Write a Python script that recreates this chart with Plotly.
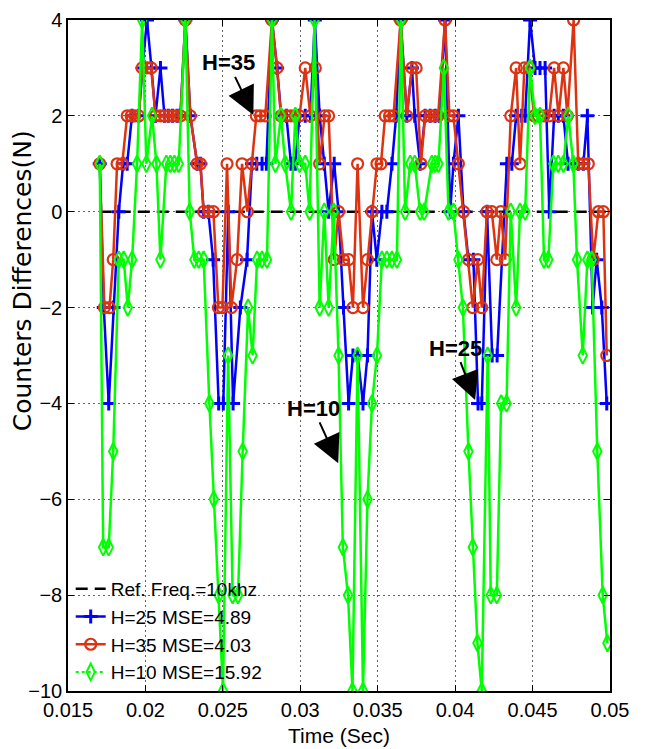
import plotly.graph_objects as go

# ---- data (time in ms, values in counts) ----
ref_ms = [17.05, 49.83]
ref_val = [0, 0]

h25_ms = [17.05, 17.31, 17.63, 17.94, 18.28, 18.56, 18.82, 19.13, 19.57, 19.81,
          20.10, 20.39, 20.65, 20.97, 21.23, 21.48, 21.74, 22.05, 22.26, 22.58,
          22.90, 23.34, 23.55, 23.76, 24.06, 24.37, 24.73, 25.03, 25.35, 25.66,
          26.13, 26.56, 26.88, 27.19, 27.53, 27.81, 28.17, 28.50, 28.77, 29.10,
          29.40, 29.68, 29.95, 30.32, 30.65, 30.94, 31.25, 31.55, 31.83, 32.19,
          32.47, 32.79, 33.12, 33.40, 33.70, 34.05, 34.34, 34.63, 34.94, 35.27,
          35.59, 35.92, 36.19, 36.48, 36.88, 37.21, 37.39, 37.74, 38.06, 38.39,
          38.71, 38.99, 39.35, 39.68, 39.89, 40.21, 40.54, 40.86, 41.18, 41.48,
          41.72, 42.06, 42.39, 42.71, 43.34, 43.66, 43.94, 44.30, 44.52, 44.84,
          45.16, 45.48, 45.81, 46.08, 46.39, 46.66, 46.99, 47.29, 47.63, 47.95,
          48.28, 48.54, 48.88, 49.14, 49.47, 49.79]
h25_val = [1, -2, -4, -2, 0, 1, 1, 2, 2, 3,
           4, 3, 2, 3, 2, 2, 2, 2, 2, 4,
           2, 1, 1, 0, 0, -1, -4, -4, 0, -4,
           -2, -1, 1, 1, 1, 1, 4, 3, 2, 2,
           1, 1, 2, 2, 2, 4, 2, 1, 0, 1,
           0, -2, -4, -3, -3, -4, -3, 0, -1, 0,
           0, 1, 2, 4, 2, 3, 2, 1, 2, 2,
           2, 2, 4, 0, 1, 2, 0, -1, -1, -4,
           -4, 0, -3, -3, 1, 1, 2, 2, 2, 4,
           3, 3, 3, 0, 2, 2, 2, 1, 1, 1,
           1, 2, -2, -1, -2, -4]

h35_ms = [17.05, 17.35, 17.68, 17.92, 18.17, 18.50, 18.82, 19.08, 19.31, 19.57,
          19.79, 20.11, 20.37, 20.65, 20.97, 21.23, 21.50, 21.79, 22.05, 22.26,
          22.58, 22.90, 23.34, 23.55, 23.76, 24.10, 24.39, 24.71, 24.97, 25.27,
          25.55, 25.92, 26.24, 26.58, 26.88, 27.16, 27.42, 27.74, 28.17, 28.50,
          28.75, 29.10, 29.40, 29.68, 29.95, 30.32, 30.65, 30.97, 31.25, 31.57,
          31.83, 32.19, 32.47, 32.79, 33.12, 33.40, 33.70, 34.05, 34.34, 34.63,
          34.95, 35.21, 35.48, 35.76, 36.02, 36.48, 36.88, 37.21, 37.48, 37.79,
          38.06, 38.39, 38.60, 38.90, 39.35, 39.63, 39.89, 40.21, 40.54, 40.86,
          41.14, 41.46, 41.72, 42.05, 42.37, 42.69, 42.95, 43.23, 43.59, 43.94,
          44.19, 44.47, 44.77, 45.10, 45.37, 45.74, 46.08, 46.39, 46.68, 46.99,
          47.25, 47.65, 47.95, 48.28, 48.60, 48.92, 49.25, 49.57, 49.79]
h35_val = [1, -2, -2, -1, 1, 1, 2, 2, 2, 2,
           3, 3, 3, 2, 2, 2, 2, 2, 2, 2,
           4, 2, 1, 1, 0, 0, 0, -2, -2, 1,
           -2, -1, 1, 0, 1, 2, 2, 2, 4, 3,
           2, 2, 2, 2, 2, 3, 2, 3, 1, 2,
           2, -1, 0, -1, -1, -2, 1, -2, -1, 0,
           1, 1, 2, 2, 2, 4, 2, 3, 3, 1,
           2, 2, 2, 2, 4, 2, 2, 1, 0, -1,
           -2, -1, -2, 0, 0, -1, 0, -1, 2, 3,
           1, 3, 3, 2, 2, 2, 2, 3, 2, 3,
           2, 4, 1, 1, 1, -1, 0, 0, -3]

h10_ms = [17.05, 17.27, 17.63, 17.92, 18.28, 18.60, 18.86, 19.14, 19.46, 19.79,
          20.06, 20.43, 20.71, 20.97, 21.35, 21.61, 21.87, 22.15, 22.58, 22.86,
          23.16, 23.44, 23.76, 24.13, 24.41, 24.73, 25.01, 25.34, 25.63, 25.98,
          26.28, 26.63, 26.92, 27.21, 27.53, 27.85, 28.17, 28.39, 28.75, 29.03,
          29.40, 29.68, 29.95, 30.32, 30.60, 30.92, 31.25, 31.55, 31.83, 32.16,
          32.47, 32.75, 33.08, 33.37, 33.70, 34.05, 34.34, 34.63, 34.95, 35.27,
          35.59, 35.92, 36.24, 36.50, 36.77, 37.10, 37.39, 37.74, 38.00, 38.50,
          38.71, 38.92, 39.27, 39.57, 39.89, 40.21, 40.50, 40.86, 41.14, 41.44,
          41.72, 42.10, 42.30, 42.69, 42.97, 43.32, 43.59, 43.94, 44.19, 44.52,
          44.84, 45.16, 45.48, 45.74, 46.02, 46.34, 46.66, 46.99, 47.31, 47.63,
          47.87, 48.24, 48.54, 48.82, 49.18, 49.53, 49.83]
h10_val = [1, -7, -7, -5, -1, -1, -2, -1, 1, 4,
           1, 2, 1, -1, 1, 1, 1, 1, 4, 0,
           -1, -1, -1, -4, -6, -8, -10, -3, -8, -8,
           -5, -2, -3, -1, -1, -1, 4, 1, 2, 1,
           0, 2, 1, 1, 0, 4, -2, 0, -2, 0,
           -3, -7, -8, -10, -3, -10, -6, -4, -3, -1,
           -1, -1, -1, 4, 0, 1, 1, 0, 0, 1,
           1, 1, 3, 0, 0, -1, -2, -5, -7, -9,
           -10, -3, -8, -8, -4, -4, 0, -2, 0, 0,
           3, 2, 2, -1, -1, 1, 1, 1, 2, 1,
           -1, -3, -1, -1, -5, -8, -9]

names = ["Ref. Freq.=10khz", "H=25 MSE=4.89", "H=35 MSE=4.03", "H=10 MSE=15.92"]
x_ticks = [0.015, 0.02, 0.025, 0.03, 0.035, 0.04, 0.045, 0.05]
x_ticktext = ["0.015", "0.02", "0.025", "0.03", "0.035", "0.04", "0.045", "0.05"]
y_ticks = [-10, -8, -6, -4, -2, 0, 2, 4]

def sec(ms):
    return [v / 1000.0 for v in ms]

BLUE = "#0000ff"
RED = "#dd3311"
GREEN = "#00ff00"
FONT = "Liberation Sans"

fig = go.Figure()
fig.add_trace(go.Scatter(x=sec(ref_ms), y=ref_val, mode="lines", name=names[0],
                         line=dict(color="black", width=2.5, dash="12px,7px")))
fig.add_trace(go.Scatter(x=sec(h25_ms), y=h25_val, mode="lines+markers", name=names[1],
                         line=dict(color=BLUE, width=2.5),
                         marker=dict(symbol="cross-thin-open", size=10,
                                     line=dict(color=BLUE, width=3))))
fig.add_trace(go.Scatter(x=sec(h35_ms), y=h35_val, mode="lines+markers", name=names[2],
                         line=dict(color=RED, width=2.5),
                         marker=dict(symbol="circle-open", size=11,
                                     line=dict(color=RED, width=2.2))))
fig.add_trace(go.Scatter(x=sec(h10_ms), y=h10_val, mode="lines+markers", name=names[3],
                         showlegend=False,
                         line=dict(color=GREEN, width=2.5),
                         marker=dict(symbol="diamond-tall-open", size=12,
                                     line=dict(color=GREEN, width=2))))
# legend entry for H=10 (dotted line sample as in the original legend)
fig.add_trace(go.Scatter(x=[None], y=[None], mode="lines+markers", name=names[3],
                         line=dict(color=GREEN, width=2, dash="dot"),
                         marker=dict(symbol="diamond-tall-open", size=12,
                                     line=dict(color=GREEN, width=2))))

ann_font = dict(family=FONT, size=22, color="black")
for txt, tx, ty, ax, ay in [("<b>H=35</b>", 0.02697, 2.02, -25, -52),
                            ("<b>H=10</b>", 0.03245, -5.25, -25, -55),
                            ("<b>H=25</b>", 0.04129, -3.93, -20, -52)]:
    fig.add_annotation(x=tx, y=ty, xref="x", yref="y", text=txt, showarrow=True,
                       ax=ax, ay=ay, arrowhead=2, arrowsize=2.8, arrowwidth=2,
                       arrowcolor="black", font=ann_font)

# y-axis label (placed as in the original figure)
fig.add_annotation(text="Counters Differences(N)", xref="paper", yref="paper",
                   x=-0.085, y=0.612, xanchor="center", yanchor="middle",
                   textangle=-90, showarrow=False,
                   font=dict(family="DejaVu Sans", size=25, color="black"))

axis_common = dict(showline=True, linecolor="black", linewidth=1.5, mirror="ticks",
                   ticks="inside", ticklen=6, tickcolor="black", tickwidth=1,
                   showgrid=True, gridcolor="#666666", gridwidth=1, griddash="1.5px,3.5px",
                   zeroline=False, automargin=False,
                   tickfont=dict(family=FONT, size=20, color="black"))

fig.update_layout(
    width=645, height=749,
    margin=dict(l=68, r=35, t=20, b=58),
    paper_bgcolor="white", plot_bgcolor="white",
    font=dict(family=FONT, size=20, color="black"),
    xaxis=dict(range=[0.015, 0.05], tickvals=x_ticks, ticktext=x_ticktext,
               title=dict(text="Time (Sec)", font=dict(family=FONT, size=21), standoff=9),
               **axis_common),
    yaxis=dict(range=[-10, 4], tickvals=y_ticks, **axis_common),
    legend=dict(x=0.005, y=0.0, xanchor="left", yanchor="bottom",
                bgcolor="rgba(0,0,0,0)", borderwidth=0,
                font=dict(family=FONT, size=19, color="black"),
                tracegroupgap=0, itemwidth=30),
    showlegend=True,
)

fig.write_html("out.html")
